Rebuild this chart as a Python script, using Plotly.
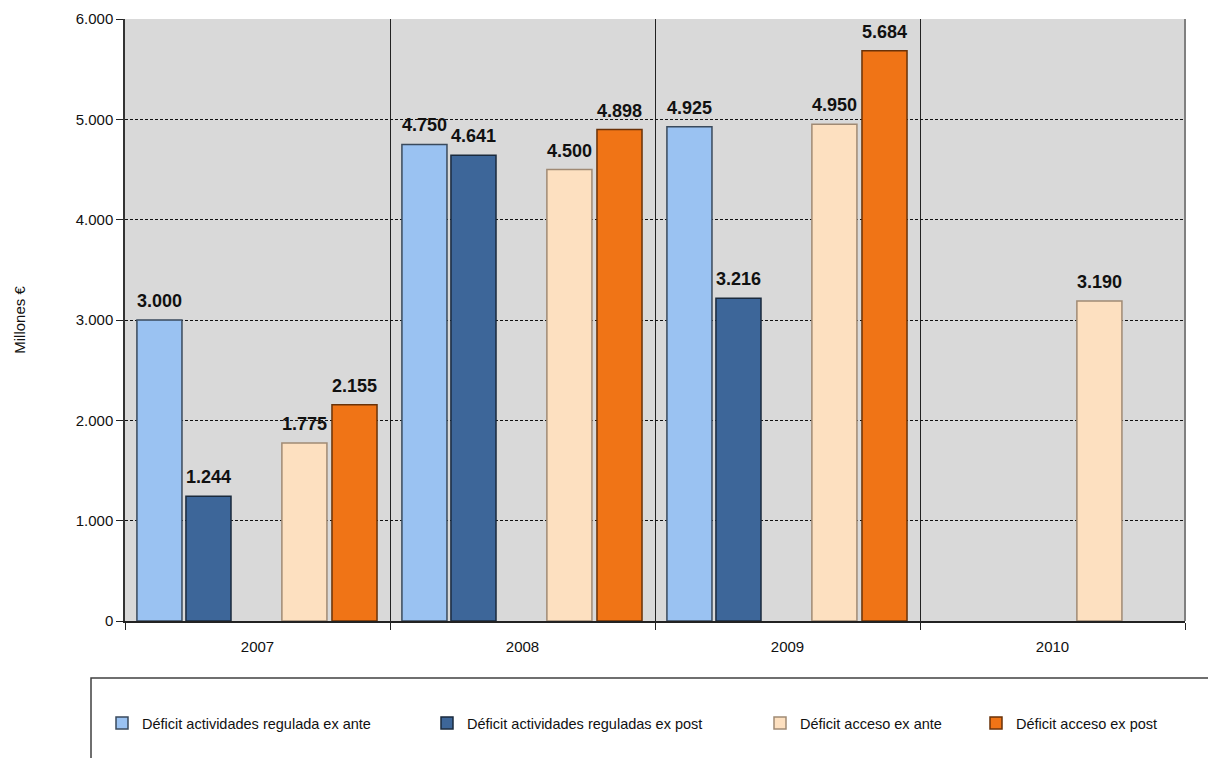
import plotly.graph_objects as go

years = ["2007", "2008", "2009", "2010"]
series_names = [
    "Déficit actividades regulada ex ante",
    "Déficit actividades reguladas ex post",
    "Déficit acceso ex ante",
    "Déficit acceso ex post",
]
reg_ex_ante = [3000, 4750, 4925, None]
reg_ex_post = [1244, 4641, 3216, None]
acc_ex_ante = [1775, 4500, 4950, 3190]
acc_ex_post = [2155, 4898, 5684, None]
series_values = [reg_ex_ante, reg_ex_post, acc_ex_ante, acc_ex_post]

y_ticks = [0, 1000, 2000, 3000, 4000, 5000, 6000]

colors = ["#9ac2f2", "#3d6699", "#fde0c0", "#f07416"]
line_colors = ["#3a4a5c", "#1a2a3d", "#a08a74", "#6a3208"]
bar_width = 0.17
offsets = [-0.455, -0.27, 0.092, 0.281]

FONT = "Liberation Sans, Arial, sans-serif"

fig = go.Figure()
legend_ids = ["legend", "legend2", "legend3", "legend4"]
for name, vals, c, lc, off, lg in zip(series_names, series_values, colors, line_colors, offsets, legend_ids):
    fig.add_trace(go.Bar(
        x=years, y=vals, name=name,
        marker=dict(color=c, line=dict(color=lc, width=1.5)),
        width=bar_width, offset=off, legend=lg,
    ))

annotations = []
for vals, off in zip(series_values, offsets):
    for i, v in enumerate(vals):
        if v is None:
            continue
        annotations.append(dict(
            x=i + off + bar_width / 2, y=v, xref="x", yref="y",
            text=f"{v:,}".replace(",", "."), showarrow=False,
            yanchor="bottom", yshift=7,
            font=dict(family=FONT, size=18, color="#111111", weight="bold"),
        ))

plot_l, plot_r, plot_t, plot_b = 125, 1185, 19, 621
W, H = 1208, 758
pw, ph = plot_r - plot_l, plot_b - plot_t

def px_x(x):
    return (x - plot_l) / pw

def px_y(y):
    return (plot_b - y) / ph

legend_text_x = [142, 467, 800, 1016]
legend_layout = {}
for lg, tx in zip(legend_ids, legend_text_x):
    legend_layout[lg] = dict(
        x=px_x(tx - 40), xanchor="left", y=px_y(723), yanchor="middle",
        orientation="h", bgcolor="rgba(0,0,0,0)",
        font=dict(family=FONT, size=14.5, color="#111111"),
    )

fig.update_layout(
    width=W, height=H,
    margin=dict(l=plot_l, r=W - plot_r, t=plot_t, b=H - plot_b, autoexpand=False),
    paper_bgcolor="white", plot_bgcolor="#d9d9d9",
    separators=",.",
    showlegend=True,
    annotations=annotations,
    font=dict(family=FONT, color="#111111"),
    **legend_layout,
)

fig.update_xaxes(
    type="category", range=[-0.5, 3.5],
    tickson="boundaries", ticks="outside", ticklen=7, tickcolor="#222222",
    ticklabelstandoff=11,
    showgrid=True, gridcolor="#222222", gridwidth=1,
    showline=True, linecolor="#222222", linewidth=1.5,
    tickfont=dict(family=FONT, size=15, color="#111111"),
)
fig.update_yaxes(
    range=[0, 6000], tickvals=y_ticks, tickformat=",d",
    ticks="outside", ticklen=7, tickcolor="#222222",
    showgrid=True, gridcolor="#111111", gridwidth=1, griddash="3px,2px",
    showline=True, linecolor="#333333", linewidth=1.5,
    zeroline=False,
    tickfont=dict(family=FONT, size=15, color="#111111"),
    title=dict(text="Millones €", font=dict(family=FONT, size=15, color="#111111"), standoff=46),
    automargin=False,
)

# right border of plot area
fig.add_shape(type="line", xref="paper", yref="paper", x0=1, x1=1, y0=0, y1=1,
              line=dict(color="#808080", width=2))
# legend box (extends beyond the figure at right and bottom)
fig.add_shape(type="rect", xref="paper", yref="paper",
              x0=px_x(91), x1=px_x(W + 20), y0=px_y(678), y1=px_y(H + 20),
              line=dict(color="#404040", width=1.5), fillcolor="rgba(0,0,0,0)")

fig.write_html("out.html")
